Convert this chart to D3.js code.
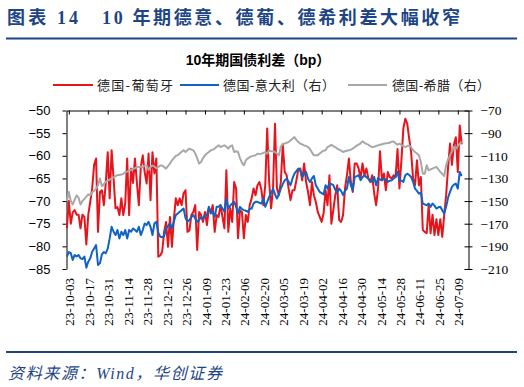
<!DOCTYPE html>
<html lang="zh">
<head>
    <meta charset="UTF-8">
    <title>10年期国债利差</title>
    <style>
        body { margin: 0; background: #fff; }
        svg { display: block; }
        text { font-family: "Liberation Serif", "Noto Sans CJK SC", serif; }
    </style>
</head>
<body>
<svg></svg>
<script src="https://d3js.org/d3.v7.min.js"></script>
<script>
    /* data: one value per trading day, 23-10-02 .. 24-07-11 */
    const tickLabels = ["23-10-03", "23-10-17", "23-10-31", "23-11-14", "23-11-28", "23-12-12", "23-12-26",
        "24-01-09", "24-01-23", "24-02-06", "24-02-20", "24-03-05", "24-03-19", "24-04-02", "24-04-16",
        "24-04-30", "24-05-14", "24-05-28", "24-06-11", "24-06-25", "24-07-09"];
    const leftTicks = [-85, -80, -75, -70, -65, -60, -55, -50];
    const rightTicks = [-210, -190, -170, -150, -130, -110, -90, -70];

    // 德国-葡萄牙 (left axis)
    const dePt = [
        -76, -70, -75, -72.5, -72, -73, -73, -76, -73, -73.5,
        -79.6, -73, -70.2, -67.2, -62, -60.6, -76.8, -68, -67.6, -70.9,
        -66, -59.2, -69.4, -58.8, -65, -71.6, -71.3, -73.1, -69.4, -73.1,
        -70.5, -60.6, -73.1, -62.8, -66, -60.6, -66, -70.9, -62.5, -59.9,
        -63.6, -66.1, -59.5, -69.8, -59.2, -63.9, -60.6, -82.3, -82, -81.2,
        -76.8, -74.6, -80.1, -73.5, -80.1, -74, -69.4, -70.9, -69.4, -70.9,
        -68.3, -67.6, -76.8, -76.5, -73.1, -72.4, -70.9, -80.8, -72.4, -73.1,
        -74.6, -72.4, -75.3, -71.6, -72.4, -70.9, -76.8, -73.1, -73.5, -70.9,
        -73.5, -76, -63.2, -76.8, -71.6, -74.6, -65.8, -67.2, -78.2, -72,
        -72.4, -78.2, -73.1, -74.6, -70.9, -69.4, -67.2, -68.7, -66.5, -65.8,
        -67.5, -70.9, -66.5, -54, -65.8, -71.6, -67.2, -52.9, -67.2, -68.7,
        -65.8, -57.5, -63.6, -64.3, -67.2, -69.8, -67.6, -67.6, -65.4, -63,
        -62.8, -65.4, -61.7, -65.8, -68, -70.9, -65.8, -68.7, -70.2, -72.4,
        -73.5, -74.6, -72.7, -67.6, -70.9, -64.3, -75, -72, -68.7, -66.5,
        -74.2, -74.6, -73.1, -67.2, -64.3, -60.6, -65.8, -68, -61.7, -61.7,
        -62.8, -65, -61.7, -64.3, -62.8, -65, -65.8, -64.3, -68.3, -70.9,
        -67.2, -59, -65.4, -63.9, -67.6, -63.6, -64.7, -65, -64.3, -64.7,
        -58.5, -67.2, -61, -54, -51.8, -52.9, -56.2, -59.2, -65, -66.5,
        -61, -66.5, -64.7, -76.4, -76.8, -77.1, -70.9, -77.1, -73, -77.5,
        -74, -77.5, -74, -77.9, -73.1, -68.7, -62.5, -57.3, -62, -57.5,
        -55.9, -63.6, -53.3, -57.5];

    // 德国-意大利 (right axis)
    const deIt = [
        -199, -195, -196, -202, -197.6, -199, -197.6, -200.6, -201.2, -199,
        -208.8, -203.5, -200.6, -194.7, -191.8, -188.8, -206.4, -205, -197, -195,
        -196, -192, -183, -172.7, -177.1, -180, -175.6, -183, -177.1, -180,
        -175.6, -183, -175.6, -177.1, -174.2, -175.6, -177.1, -172.7, -180, -175.6,
        -169.8, -171.2, -168.3, -172.7, -180, -169.8, -168.3, -178, -181.5, -182,
        -181, -174.2, -172, -169.8, -174.2, -168, -162.4, -161, -159.5, -158,
        -156.6, -165, -168.3, -166.8, -164, -162.4, -165.4, -168.3, -166.8, -164,
        -165.4, -163, -162.4, -155.1, -161, -159.5, -163.9, -155.1, -155, -153.6,
        -156.6, -159.5, -147.8, -156.6, -154, -152.2, -150.7, -155, -161, -155.1,
        -157, -158, -158.5, -159.5, -157, -156.6, -152, -150.7, -150.7, -151.5,
        -152.2, -147.8, -155.1, -150.7, -146.3, -143, -139, -144, -147.8, -144,
        -139, -135, -131.6, -130.2, -133, -136, -130, -125.8, -123.5, -121.3,
        -123, -128.7, -126, -124.3, -130.2, -133.1, -130, -127.8, -136, -139,
        -141.9, -143, -144.2, -136, -139, -134.6, -135, -136, -140, -142.5,
        -139, -141, -144.8, -141, -139, -128.7, -136, -140.4, -128.7, -128,
        -127.2, -131.6, -129, -127.2, -129, -130.2, -132, -133.1, -128.7, -136,
        -129.6, -131, -131.6, -130.2, -131, -133.1, -132, -131.6, -130, -128.7,
        -124.3, -131.6, -132, -133.1, -127.2, -125.8, -127, -128.7, -133, -139,
        -141, -143.4, -142.5, -152.2, -153, -153.6, -152.2, -155.1, -152.2, -154,
        -156.6, -155.5, -155.1, -158, -161, -155.1, -147, -141.9, -137.5, -135.5,
        -134.6, -139, -124.3, -127.8];

    // 德国-希腊 (right axis)
    const deGr = [
        -150, -142, -150, -153, -149, -145, -147, -153, -150, -148,
        -146, -144, -145, -142, -141, -139, -136, -130, -137, -135,
        -133, -132, -131, -130, -129, -128, -127, -127, -126.5, -126,
        -124.5, -124, -123, -122.5, -121.5, -121, -120, -120, -119.5, -120,
        -118.5, -118.5, -122.5, -120, -118.5, -119.5, -121, -120, -118.5, -118.5,
        -120, -121.3, -119, -117, -114, -112, -110, -109.5, -108, -106.5,
        -105.2, -106.7, -105, -103.7, -104.5, -105.2, -108, -112, -116.9, -115.5,
        -112, -109.6, -108, -106.7, -105.2, -104.5, -103.7, -102, -100.8, -102.3,
        -101.5, -100.8, -102, -103.7, -101.5, -100.8, -106.7, -106, -106.7, -112,
        -116, -118.4, -114, -112.5, -111.1, -110.5, -110, -109.6, -108.1, -108.5,
        -108.1, -107.5, -106.7, -108.1, -105.2, -106, -106, -106.7, -108, -109.6,
        -102, -99.3, -99.3, -98.5, -97.9, -96.4, -95, -93.5, -96, -97.9,
        -99.3, -100, -100.8, -101.5, -102.3, -104, -107, -109.6, -109.6, -109.6,
        -108, -106.7, -105.5, -105.2, -102.3, -101.5, -100.2, -101.5, -102.3, -103.7,
        -104.5, -105.5, -106.7, -106, -105.5, -105.2, -104.5, -103.7, -102.5, -101,
        -100.2, -99, -97.3, -98.5, -99.5, -100.2, -101.5, -102.3, -102, -101.4,
        -100.8, -100.2, -99.8, -99.3, -99, -98.8, -98.5, -97.5, -97.3, -99,
        -100.2, -99.3, -100.5, -101.5, -102.3, -101.5, -100.8, -102.5, -105, -106.7,
        -108, -109.6, -115.5, -125.8, -125.8, -118.4, -122.8, -122, -121.3, -120.5,
        -119.9, -122, -124.3, -126, -127.8, -118.4, -113, -109.6, -106, -102.3,
        -103.7, -101.5, -99.3, -97.9];

    const series = [
        {name: "德国-葡萄牙", values: dePt, axis: "left", color: "#e8141c"},
        {name: "德国-意大利（右）", values: deIt, axis: "right", color: "#0f63c4"},
        {name: "德国-希腊（右）", values: deGr, axis: "right", color: "#a8a8a8"}
    ];

    /* layout */
    const width = 524;
    const height = 387;
    const plotLeft = 66.5;
    const plotRight = 468.5;
    const plotTop = 110.5;
    const plotBottom = 269;
    const navy = "#1d4585";

    const svg = d3.select("svg")
        .attr("width", width)
        .attr("height", height);

    /* scales */
    const x = d3.scaleLinear().domain([-0.2, 206.5]).range([plotLeft, plotRight]);
    const yL = d3.scaleLinear().domain([-85, -50]).range([plotBottom, plotTop]);
    const yR = d3.scaleLinear().domain([-210, -70]).range([plotBottom, plotTop]);
    const tickIndex = tickLabels.map((d, k) => 1 + 10 * k);

    /* header */
    svg.append("text")
        .attr("x", 7).attr("y", 24)
        .attr("fill", navy)
        .style("font-size", "18px").style("font-weight", "bold")
        .attr("textLength", 71).attr("lengthAdjust", "spacing")
        .text("图表 14");
    svg.append("text")
        .attr("x", 102).attr("y", 24)
        .attr("fill", navy)
        .style("font-size", "18px").style("font-weight", "bold")
        .attr("textLength", 358).attr("lengthAdjust", "spacing")
        .text("10 年期德意、德葡、德希利差大幅收窄");
    svg.append("line")
        .attr("x1", 6).attr("x2", 517).attr("y1", 38.5).attr("y2", 38.5)
        .attr("stroke", navy).attr("stroke-width", 2);

    svg.append("text")
        .attr("x", 258).attr("y", 65)
        .attr("text-anchor", "middle")
        .style("font-family", "'Liberation Sans', 'Noto Sans CJK SC', sans-serif")
        .style("font-size", "14px").style("font-weight", "bold")
        .text("10年期国债利差（bp）");

    /* legend */
    const legendPos = [
        {x1: 53, x2: 93, tx: 97, len: 76},
        {x1: 180, x2: 219, tx: 223, len: 112},
        {x1: 348, x2: 387, tx: 392, len: 98}
    ];
    series.forEach((s, k) => {
        const p = legendPos[k];
        svg.append("line")
            .attr("x1", p.x1).attr("x2", p.x2).attr("y1", 85).attr("y2", 85)
            .attr("stroke", s.color).attr("stroke-width", 2);
        svg.append("text")
            .attr("x", p.tx).attr("y", 85).attr("dy", "0.36em")
            .attr("fill", "#222")
            .style("font-family", "'Noto Sans CJK SC', sans-serif")
            .style("font-size", "13px")
            .attr("textLength", p.len).attr("lengthAdjust", "spacing")
            .text(s.name);
    });

    /* axes */
    const leftAxis = svg.append("g")
        .attr("transform", `translate(${plotLeft},0)`)
        .call(d3.axisLeft(yL).tickValues(leftTicks).tickSize(4).tickSizeOuter(0).tickPadding(12));
    leftAxis.selectAll("text")
        .style("font-family", "'Liberation Sans', sans-serif")
        .style("font-size", "13px").attr("fill", "#000");

    const rightAxis = svg.append("g")
        .attr("transform", `translate(${plotRight},0)`)
        .call(d3.axisRight(yR).tickValues(rightTicks).tickSize(4).tickSizeOuter(0).tickPadding(8));
    rightAxis.selectAll(".tick line").attr("x1", -4);
    rightAxis.selectAll("text")
        .style("font-family", "'Liberation Serif', serif")
        .style("font-size", "13.5px").attr("fill", "#000");

    svg.append("g")
        .attr("transform", `translate(0,${plotTop})`)
        .call(d3.axisTop(x).tickValues(tickIndex).tickSizeInner(-4).tickSizeOuter(0).tickFormat(""));

    svg.selectAll(".domain, .tick line").attr("stroke", "#000").attr("stroke-width", 1);

    /* date labels, rotated */
    svg.selectAll(".dateLabel").data(tickLabels).enter().append("text")
        .attr("class", "dateLabel")
        .attr("x", (d, k) => x(tickIndex[k]) + 1)
        .attr("y", 278)
        .attr("dy", "0.35em")
        .attr("text-anchor", "end")
        .attr("transform", (d, k) => `rotate(-90,${x(tickIndex[k]) + 1},278)`)
        .style("font-size", "13px")
        .text((d) => d);

    /* lines */
    series.forEach((s) => {
        const yS = s.axis === "left" ? yL : yR;
        const line = d3.line()
            .x((d, i) => x(i))
            .y((d) => yS(d));
        svg.append("path")
            .datum(s.values)
            .attr("d", line)
            .attr("fill", "none")
            .attr("stroke", s.color)
            .attr("stroke-width", 2)
            .attr("stroke-linejoin", "round");
    });

    /* footer */
    svg.append("line")
        .attr("x1", 6).attr("x2", 517).attr("y1", 352).attr("y2", 352)
        .attr("stroke", navy).attr("stroke-width", 2);
    svg.append("text")
        .attr("x", 8).attr("y", 379)
        .attr("fill", navy)
        .style("font-size", "16px").style("font-style", "italic")
        .attr("textLength", 214).attr("lengthAdjust", "spacing")
        .text("资料来源：Wind，华创证券");
</script>
</body>
</html>
